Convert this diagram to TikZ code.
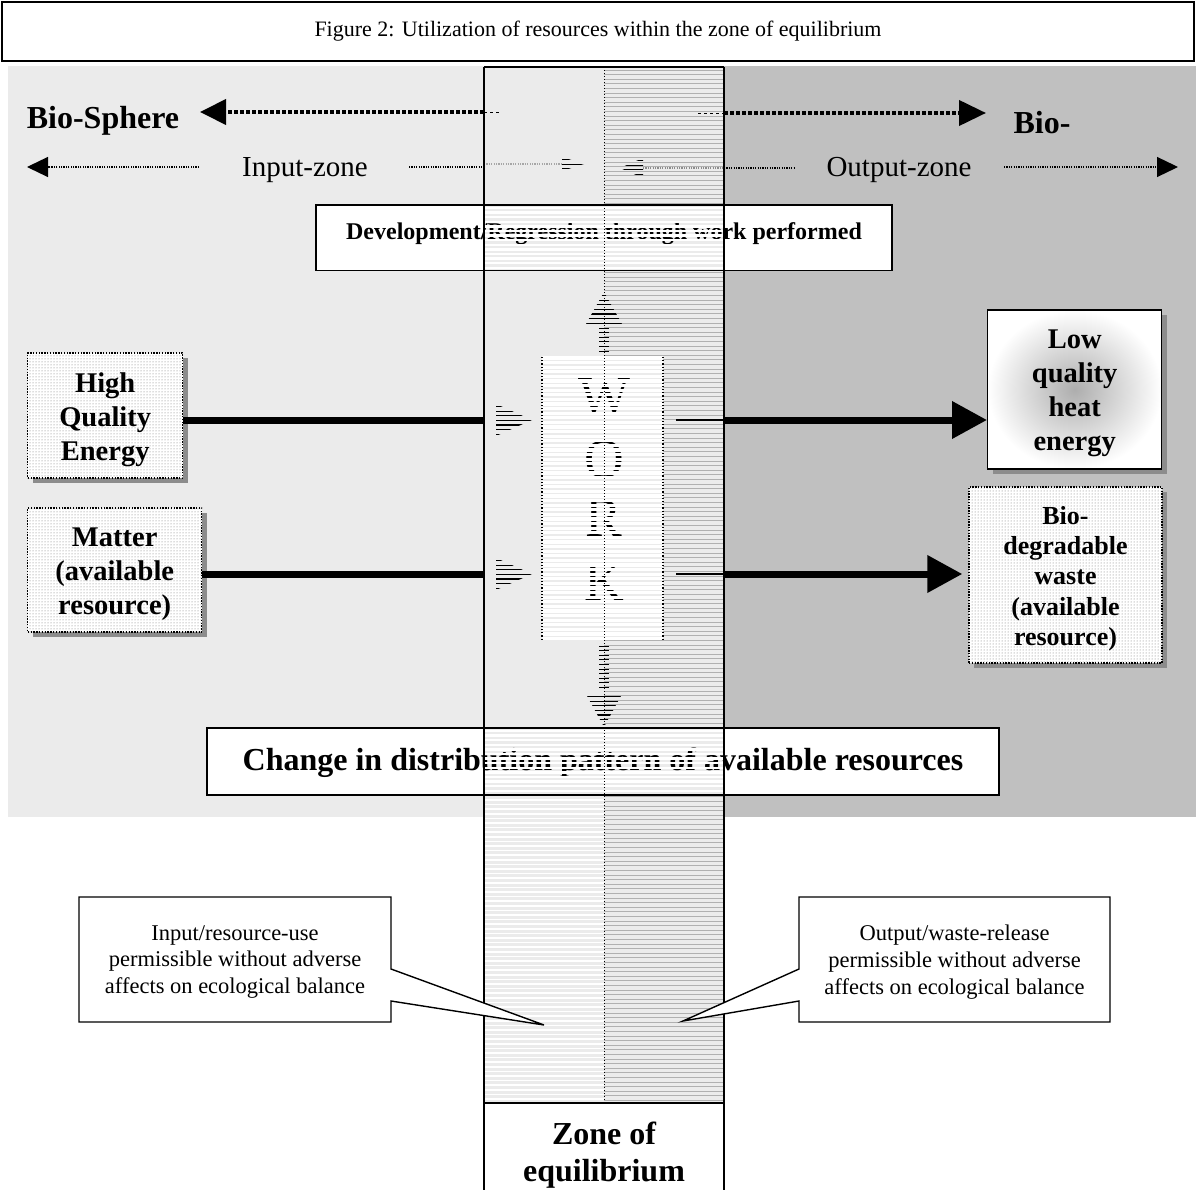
\documentclass[tikz,border=0pt]{standalone}
\usepackage{fontspec}
\setmainfont{Liberation Serif}
\usetikzlibrary{arrows.meta,shadows,patterns}
\definecolor{bgL}{HTML}{EBEBEB}
\definecolor{bgR}{HTML}{C0C0C0}
\definecolor{stripeg}{HTML}{B0B0B0}
\newcommand{\hstripes}[6]{%
  \pgfmathtruncatemacro{\nst}{(#6-#5)/4.6}%
  \foreach \k in {0,...,\nst}{\draw[#1,line width=#2] (#3,{#5+4.6*\k}) -- (#4,{#5+4.6*\k});}}
\begin{document}
\begin{tikzpicture}[x=1pt,y=-1pt,
  sidebox/.style={drop shadow={shadow xshift=5pt,shadow yshift=-5pt,fill=black!45,opacity=1},
    preaction={fill=white}, pattern=dots, pattern color=black!55,
    draw, dash pattern=on 1.4pt off 1.4pt, line width=1.4pt, inner sep=0pt},
  plainbox/.style={draw, line width=1.4pt, fill=white, inner sep=0pt, align=center},
  bigtxt/.style={font=\bfseries\fontsize{28.5}{34}\selectfont, align=center},
  devfont/.style={font=\bfseries\fontsize{24}{28}\selectfont},
  chgfont/.style={font=\bfseries\fontsize{32}{38}\selectfont},
  zonefont/.style={font=\fontsize{29}{34}\selectfont},
  callfont/.style={font=\fontsize{22.5}{26.7}\selectfont, align=center},
  letterfont/.style={font=\fontsize{55}{60}\selectfont, inner sep=0pt},
  thickarrow/.style={line width=7pt, -{Triangle[length=35pt,width=36pt]}},
  thickline/.style={line width=7pt},
  bigdots/.style={line width=4pt, dash pattern=on 4pt off 2pt},
  smalldots/.style={line width=1.2pt, dash pattern=on 1.2pt off 1.2pt},
]
\useasboundingbox (0,0) rectangle (1196,1190);
\fill[white] (0,0) rectangle (1196,1190);

% title
\node[draw, line width=1.4pt, minimum width=1192pt, minimum height=59pt, inner sep=0pt,
  font=\fontsize{22}{26}\selectfont] (title) at (598,31.5)
  {Figure 2: Utilization of resources within the zone of equilibrium};

% backgrounds
\fill[bgL] (8,66) rectangle (724,817);
\fill[bgR] (724,66) rectangle (1196,817);

% column
\fill[bgL] (484,67) rectangle (724,1103);
\hstripes{stripeg}{0.7pt}{604}{724}{70}{1103}
\hstripes{white}{1.6pt}{484}{604}{731}{1103}

% top arrows
\node[font=\bfseries\fontsize{32}{38}\selectfont] (bios) at (103,121) {Bio-Sphere};
\node[font=\bfseries\fontsize{32}{38}\selectfont] (bior) at (1042,123) {Bio-};
\coordinate (tl) at (484,112);
\coordinate (tlend) at (200,112);
\coordinate (tr) at (724,113);
\coordinate (trend) at (986,113);
\draw[bigdots, -{Triangle[length=26pt,width=25pt]}] (tl) -- (tlend);
\draw[dashed, line width=0.8pt] (tl) -- (500,112);
\draw[dashed, line width=0.8pt] (698,113) -- (tr);
\draw[bigdots, -{Triangle[length=27pt,width=25pt]}] (tr) -- (trend);

% zone labels
\node[zonefont] (inz) at (305,170) {Input-zone};
\node[zonefont] (outz) at (899,170) {Output-zone};
\draw[smalldots, -{Triangle[length=21pt,width=20pt]}] (199,167) -- (27,167);
\draw[smalldots] (409,167) -- (484,167);
\draw[smalldots, black!35] (484,164) -- (562,164);
\draw[smalldots, black!45] (643,168) -- (724,168);
\draw[smalldots] (724,168) -- (795,168);
\draw[smalldots, -{Triangle[length=21pt,width=20pt]}] (1004,167) -- (1178,167);
\begin{scope}
  \clip (562,157) -- (584,164) -- (562,171) -- cycle;
  \hstripes{black}{1.2pt}{555}{590}{155}{175}
\end{scope}
\begin{scope}
  \clip (643,158) -- (620,168) -- (643,178) -- cycle;
  \hstripes{black}{1.2pt}{615}{650}{156}{180}
\end{scope}

% development box
\node[plainbox, minimum width=576pt, minimum height=65pt] (dev) at (604,238) {};
\node[devfont] (devtxt) at (604,234) {Development/Regression through work performed};
\begin{scope}
  \clip (484.8,206) rectangle (723.2,270);
  \fill[bgL] (484,206) rectangle (724,270);
  \node[devfont] (devtxtb) at (604,234) {Development/Regression through work performed};
  \hstripes{white}{2.4pt}{484}{724}{208}{270}
\end{scope}
\draw[line width=1.4pt] (dev.north west) -- (dev.north east);

% change box
\node[plainbox, minimum width=792pt, minimum height=67pt] (chg) at (603,761.5) {};
\node[chgfont] (chgtxt) at (603,763) {Change in distribution pattern of available resources};
\begin{scope}
  \clip (484.8,729) rectangle (723.2,794);
  \fill[bgL] (484,729) rectangle (724,794);
  \node[chgfont] (chgtxtb) at (603,763) {Change in distribution pattern of available resources};
  \hstripes{white}{2.4pt}{484}{724}{731}{794}
\end{scope}
\draw[line width=1.4pt] (chg.south west) -- (chg.south east);

% WORK region
\fill[bgL] (542,357) rectangle (663,640);
\node[letterfont] (lw) at (604,397) {W};
\node[letterfont] (lo) at (604,460) {O};
\node[letterfont] (lr) at (604,518) {R};
\node[letterfont] (lk) at (604,582) {K};
\hstripes{white}{3.2pt}{542}{663}{358}{640}
\draw[dotted, line width=1.2pt] (542,357) -- (542,640);
\draw[dotted, line width=1.2pt] (663,357) -- (663,640);

% up and down arrows
\begin{scope}
  \clip (586,324) -- (604,292) -- (622,324) -- cycle;
  \hstripes{black}{1.2pt}{580}{630}{291}{326}
\end{scope}
\foreach \yy in {328,332.6,...,353} \draw[line width=1pt] (599,\yy) -- (609,\yy);
\begin{scope}
  \clip (586,694) -- (604,727) -- (622,694) -- cycle;
  \hstripes{black}{1.2pt}{580}{630}{692}{728}
\end{scope}
\foreach \yy in {646,650.6,...,691} \draw[line width=1pt] (599,\yy) -- (609,\yy);

% center dotted line
\draw[dotted, line width=1pt] (604,67) -- (604,1103);

% column border
\draw[line width=1.4pt] (484,67) -- (724,67);
\draw[line width=1.4pt] (484,67) -- (484,1190);
\draw[line width=1.4pt] (724,67) -- (724,1190);

% side boxes
\node[sidebox, minimum width=155pt, minimum height=125pt] (hqe) at (105.2,415.5) {};
\node[bigtxt] (hqet) at ([yshift=-4pt]hqe.center) {High\\Quality\\Energy};
\node[sidebox, minimum width=174pt, minimum height=124pt] (mat) at (114.7,570) {};
\node[bigtxt] (matt) at ([yshift=-4.5pt]mat.center) {Matter\\(available\\resource)};
\node[draw, line width=1.4pt, inner sep=0pt,
  drop shadow={shadow xshift=5pt,shadow yshift=-5pt,fill=black!45,opacity=1},
  inner color=black!32, outer color=white,
  minimum width=174pt, minimum height=159pt] (lq) at (1074.7,389.5) {};
\node[bigtxt] (lqt) at ([yshift=-4pt]lq.center) {Low\\quality\\heat\\energy};
\node[sidebox, minimum width=193pt, minimum height=176pt] (bd) at (1065.5,575) {};
\node[font=\bfseries\fontsize{26}{30.3}\selectfont, align=center] (bdt) at ([yshift=-3.5pt]bd.center) {Bio-\\degradable\\waste\\(available\\resource)};

% main arrows
\coordinate (a1) at (484,420);
\coordinate (a1r) at (724,420);
\coordinate (a2) at (484,574);
\coordinate (a2r) at (724,574);
\draw[thickline] (a1 -| hqe.east) -- (a1);
\draw[thickline] (a2 -| mat.east) -- (a2);
\draw[line width=1.6pt] (676,420) -- (a1r);
\draw[line width=1.6pt] (676,574) -- (a2r);
\draw[thickarrow] (a1r) -- (a1r -| lq.west);
\draw[thickarrow, shorten >=6pt] (a2r) -- (a2r -| bd.west);
\begin{scope}
  \clip (496,404) -- (532,420) -- (496,436) -- cycle;
  \hstripes{black}{1.2pt}{490}{540}{402}{440}
\end{scope}
\begin{scope}
  \clip (496,558) -- (532,574) -- (496,590) -- cycle;
  \hstripes{black}{1.2pt}{490}{540}{556}{594}
\end{scope}

% callouts
\draw[line width=1.4pt, fill=white] (79,897) -- (391,897) -- (391,969) -- (544,1025) -- (391,1001) -- (391,1022) -- (79,1022) -- cycle;
\node[callfont] (cltxt) at (235,962) {Input/resource-use\\permissible without adverse\\affects on ecological balance};
\draw[line width=1.4pt, fill=white] (1110,897) -- (799,897) -- (799,969) -- (683,1021) -- (799,1001) -- (799,1022) -- (1110,1022) -- cycle;
\node[callfont] (crtxt) at (954.5,962) {Output/waste-release\\permissible without adverse\\affects on ecological balance};

% zone of equilibrium
\node[plainbox, minimum width=240pt, minimum height=97pt] (zone) at (604,1151.5) {};
\node[font=\bfseries\fontsize{32}{37}\selectfont, align=center] (zonet) at ([yshift=-4pt]zone.center) {Zone of\\equilibrium};
\end{tikzpicture}
\end{document}
